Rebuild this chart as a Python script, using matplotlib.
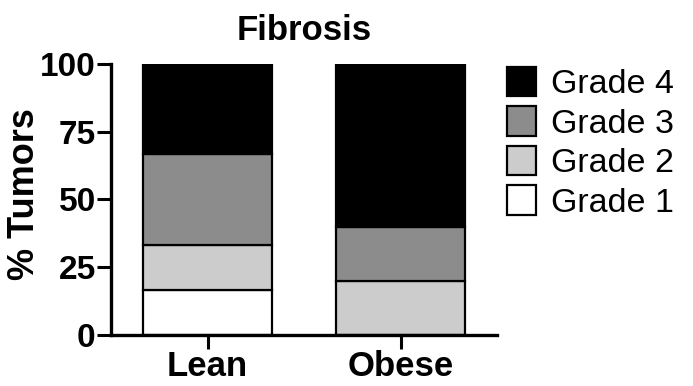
import matplotlib
matplotlib.use("Agg")
import matplotlib.pyplot as plt
import numpy as np

# Tumor fibrosis grade distribution per group (% of tumors)
groups = ["Lean", "Obese"]
grades = ["Grade 1", "Grade 2", "Grade 3", "Grade 4"]
grade1 = [16.67, 0.0]
grade2 = [16.67, 20.0]
grade3 = [33.33, 20.0]
grade4 = [33.33, 60.0]
yticks = [0, 25, 50, 75, 100]

colors = ["#ffffff", "#cccccc", "#8c8c8c", "#000000"]

plt.rcParams["font.family"] = ["Liberation Sans", "DejaVu Sans"]

fig = plt.figure(figsize=(6.93, 3.86), dpi=100)
ax = fig.add_axes([111 / 693, 1 - 335 / 386, (497 - 111) / 693, (335 - 64) / 386])

x = np.arange(len(groups))
bottom = np.zeros(len(groups))
handles = []
for vals, col, lab in zip([grade1, grade2, grade3, grade4], colors, grades):
    bars = ax.bar(x, vals, width=0.67, bottom=bottom, color=col,
                  edgecolor="black", linewidth=1.6, label=lab, zorder=2)
    handles.append(bars)
    bottom += np.array(vals)

ax.set_xlim(-0.5, 1.5)
ax.set_ylim(0, 100)
ax.set_yticks(yticks)
ax.set_xticks(x)
ax.set_xticklabels(groups, fontsize=25, fontweight="bold")
ax.set_yticklabels([str(v) for v in yticks], fontsize=24, fontweight="bold")
ax.tick_params(axis="both", length=10, width=2.2, direction="out", pad=1)

for side in ["top", "right"]:
    ax.spines[side].set_visible(False)
for side in ["left", "bottom"]:
    ax.spines[side].set_linewidth(2.4)

ax.set_ylabel("% Tumors", fontsize=26, fontweight="bold")
ax.yaxis.set_label_coords(-0.18, 0.52)
ax.set_title("Fibrosis", fontsize=25, fontweight="bold", pad=17)

leg = fig.legend(handles[::-1], grades[::-1], loc="upper left",
                 bbox_to_anchor=(507 / 693, 1 - 67 / 386), frameon=False,
                 fontsize=24.5, handlelength=0.85, handleheight=0.95,
                 handletextpad=0.45, labelspacing=0.18, borderpad=0,
                 borderaxespad=0)
for h in leg.legend_handles:
    h.set_linewidth(1.6)

fig.savefig("out.png", dpi=100)
